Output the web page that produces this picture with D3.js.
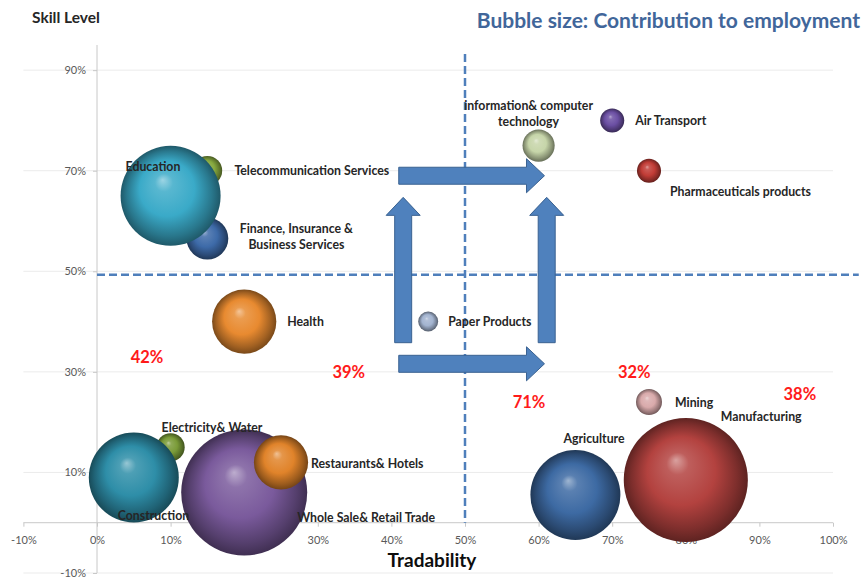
<!DOCTYPE html>
<html>
<head>
<meta charset="utf-8">
<script src="https://cdn.jsdelivr.net/npm/d3@7"></script>
<style>
  body { margin: 0; background: #fff; }
  text { font-family: Lato, "Open Sans", sans-serif; }
</style>
</head>
<body>
<div id="chart"></div>
<script>
var width = 865
var height = 578

// sectors: tradability (x, %), skill level (y, %), contribution to employment (size)
const sectors = ["Telecommunication Services", "Finance, Insurance & Business Services", "Education",
  "Health", "Paper Products", "Information& computer technology", "Air Transport",
  "Pharmaceuticals products", "Mining", "Agriculture", "Manufacturing",
  "Electricity& Water", "Construction", "Whole Sale& Retail Trade", "Restaurants& Hotels"];
const tradability = [15, 15, 10, 20, 45, 60, 70, 75, 75, 65, 80, 10, 5, 20, 25];
const skill = [70, 56.5, 65, 40, 40, 75, 80, 70, 24, 5.5, 8.5, 15, 9, 6, 12];
const employment = [1.1, 2.2, 12.6, 5.2, 0.5, 1.3, 0.73, 0.73, 0.85, 10.2, 19.4, 1.0, 10.2, 20, 3.7];
const colors = ["#86a93f", "#3d6aa8", "#3aaac8", "#e88a30", "#a3b4d0", "#c6d5a9", "#6b4fa3",
  "#c13c36", "#d9aaab", "#3d6aa3", "#b3423f", "#7a9b38", "#2e8ea8", "#7a5a9c", "#e0832a"];

const xTicks = [-10, 0, 10, 20, 30, 40, 50, 60, 70, 80, 90, 100];
const yTicks = [-10, 10, 30, 50, 70, 90];

// quadrant shares shown in red
const shareText = ["42%", "39%", "71%", "32%", "38%"];
const shareX = [6.8, 34.2, 58.7, 73, 95.5];
const shareY = [33, 30, 24, 30, 25.6];

// label placement (pixels from bubble centre)
const labelLayout = {
  "Telecommunication Services": {dx: 27, dy: 0, anchor: "start", lines: ["Telecommunication Services"]},
  "Finance, Insurance & Business Services": {dx: 89, dy: -10, anchor: "middle", lines: ["Finance, Insurance &", "Business Services"]},
  "Education": {dx: -45, dy: -29, anchor: "start", lines: ["Education"]},
  "Health": {dx: 43, dy: 0, anchor: "start", lines: ["Health"]},
  "Paper Products": {dx: 20, dy: 0, anchor: "start", lines: ["Paper Products"]},
  "Information& computer technology": {dx: -10, dy: -40, anchor: "middle", lines: ["information& computer", "technology"]},
  "Air Transport": {dx: 23, dy: 0, anchor: "start", lines: ["Air Transport"]},
  "Pharmaceuticals products": {dx: 21, dy: 21, anchor: "start", lines: ["Pharmaceuticals products"]},
  "Mining": {dx: 26, dy: 1, anchor: "start", lines: ["Mining"]},
  "Agriculture": {dx: -12, dy: -56, anchor: "start", lines: ["Agriculture"]},
  "Manufacturing": {dx: 35, dy: -63, anchor: "start", lines: ["Manufacturing"]},
  "Electricity& Water": {dx: -9, dy: -20, anchor: "start", lines: ["Electricity& Water"]},
  "Construction": {dx: -16, dy: 38, anchor: "start", lines: ["Construction"]},
  "Whole Sale& Retail Trade": {dx: 53, dy: 25, anchor: "start", lines: ["Whole Sale& Retail Trade"]},
  "Restaurants& Hotels": {dx: 30, dy: 1, anchor: "start", lines: ["Restaurants& Hotels"]}
};

// block arrows in data units [x1, y1, x2, y2]
const arrows = [
  [41, 69, 60.8, 69],
  [41, 31.6, 60.8, 31.6],
  [41.6, 35.8, 41.6, 64.7],
  [61.1, 35.8, 61.1, 64.7]
];

const svg = d3.select("#chart")
    .append("svg")
    .attr("width", width)
    .attr("height", height);

const x = d3.scaleLinear().domain([-10, 100]).range([23.4, 833]);
const y = d3.scaleLinear().domain([-10, 95]).range([573, 45]);
const r = d3.scaleSqrt().domain([0, 20]).range([0, 63]);

// gridlines
svg.append("g")
    .selectAll("line")
    .data(yTicks)
    .enter()
    .append("line")
    .attr("x1", x(-10))
    .attr("x2", x(100))
    .attr("y1", d => y(d))
    .attr("y2", d => y(d))
    .style("stroke", "#ebebeb")
    .style("stroke-width", 1);

// y axis at x = 0
const yAxis = svg.append("g")
    .attr("transform", "translate(" + x(0) + ",0)")
    .call(d3.axisLeft(y).tickValues(yTicks).tickSize(4).tickFormat(d => d + "%"));
yAxis.select(".domain").attr("d", "M0," + y(95) + "V" + y(-10)).style("stroke", "#c8c8c8");
yAxis.selectAll(".tick line").style("stroke", "#c8c8c8");
yAxis.selectAll(".tick text")
    .attr("x", -11)
    .style("font-size", "11px")
    .style("fill", "#595959")
    .style("font-family", "Lato, sans-serif");

// x axis at y = 0
const xAxis = svg.append("g")
    .attr("transform", "translate(0," + y(0) + ")")
    .call(d3.axisBottom(x).tickValues(xTicks).tickSize(4).tickFormat(d => d + "%"));
xAxis.select(".domain").attr("d", "M" + x(-10) + ",0H" + x(100)).style("stroke", "#c8c8c8");
xAxis.selectAll(".tick line").style("stroke", "#c8c8c8");
xAxis.selectAll(".tick text")
    .attr("y", 13)
    .style("font-size", "11px")
    .style("fill", "#595959")
    .style("font-family", "Lato, sans-serif");

// dashed quadrant lines
svg.append("line")
    .attr("x1", x(50)).attr("x2", x(50))
    .attr("y1", 54).attr("y2", y(0))
    .style("stroke", "#4f7fbb").style("stroke-width", 2.5)
    .style("stroke-dasharray", "8,4");
svg.append("line")
    .attr("x1", x(0)).attr("x2", x(103.5))
    .attr("y1", y(49.3)).attr("y2", y(49.3))
    .style("stroke", "#4f7fbb").style("stroke-width", 2.5)
    .style("stroke-dasharray", "8,4");

// sphere gradients
const defs = svg.append("defs");
colors.forEach(function (c, i) {
  const g = defs.append("radialGradient")
      .attr("id", "ball" + i)
      .attr("cx", "50%").attr("cy", "50%").attr("r", "50%")
      .attr("fx", "42%").attr("fy", "34%");
  const base = d3.color(c);
  g.append("stop").attr("offset", "0%").attr("stop-color", d3.interpolateRgb(c, "#ffffff")(0.5));
  g.append("stop").attr("offset", "18%").attr("stop-color", d3.interpolateRgb(c, "#ffffff")(0.15));
  g.append("stop").attr("offset", "55%").attr("stop-color", c);
  g.append("stop").attr("offset", "85%").attr("stop-color", base.darker(1.0));
  g.append("stop").attr("offset", "100%").attr("stop-color", base.darker(1.8));
});

const points = sectors.map((s, i) => ({
  name: s, x: tradability[i], y: skill[i], size: employment[i], i: i
}));

// block arrows
const shaft = 8.5, head = 17, headLen = 18;
svg.append("g")
    .selectAll("path")
    .data(arrows)
    .enter()
    .append("path")
    .attr("d", function (a) {
      const len = Math.hypot(x(a[2]) - x(a[0]), y(a[3]) - y(a[1]));
      const b = len - headLen;
      const p = [[0, -shaft], [b, -shaft], [b, -head], [len, 0], [b, head], [b, shaft], [0, shaft]];
      return "M" + p.map(q => q.join(",")).join("L") + "Z";
    })
    .attr("transform", function (a) {
      const ang = Math.atan2(y(a[3]) - y(a[1]), x(a[2]) - x(a[0])) * 180 / Math.PI;
      return "translate(" + x(a[0]) + "," + y(a[1]) + ") rotate(" + ang + ")";
    })
    .style("fill", "#4f81bd")
    .style("stroke", "#3a6291")
    .style("stroke-width", 1);

// bubbles
svg.append("g")
    .selectAll("circle")
    .data(points)
    .enter()
    .append("circle")
    .attr("cx", d => x(d.x))
    .attr("cy", d => y(d.y))
    .attr("r", d => r(d.size))
    .attr("fill", d => "url(#ball" + d.i + ")");

// labels
const lab = svg.append("g");
points.forEach(function (d) {
  const L = labelLayout[d.name];
  L.lines.forEach(function (t, k) {
    lab.append("text")
        .attr("x", x(d.x) + L.dx)
        .attr("y", y(d.y) + L.dy + k * 16)
        .attr("dy", "0.35em")
        .attr("text-anchor", L.anchor)
        .style("font-size", "12.3px")
        .style("font-weight", "bold")
        .style("fill", "#262626")
        .text(t);
  });
});

// red shares
svg.append("g")
    .selectAll("text")
    .data(shareText)
    .enter()
    .append("text")
    .attr("x", (d, i) => x(shareX[i]))
    .attr("y", (d, i) => y(shareY[i]))
    .attr("dy", "0.35em")
    .attr("text-anchor", "middle")
    .style("font-size", "16.5px")
    .style("font-weight", "bold")
    .style("fill", "#ff1a1a")
    .text(d => d);

// titles
svg.append("text")
    .attr("x", 32).attr("y", 23)
    .style("font-size", "15.5px").style("font-weight", "bold").style("fill", "#262626")
    .text("Skill Level");
svg.append("text")
    .attr("x", 432).attr("y", 567)
    .attr("text-anchor", "middle")
    .style("font-size", "19px").style("font-weight", "bold").style("fill", "#0d0d0d")
    .text("Tradability");
svg.append("text")
    .attr("x", 860).attr("y", 28)
    .attr("text-anchor", "end")
    .style("font-size", "21px").style("font-weight", "bold").style("fill", "#41669a")
    .text("Bubble size: Contribution to employment");
</script>
</body>
</html>
